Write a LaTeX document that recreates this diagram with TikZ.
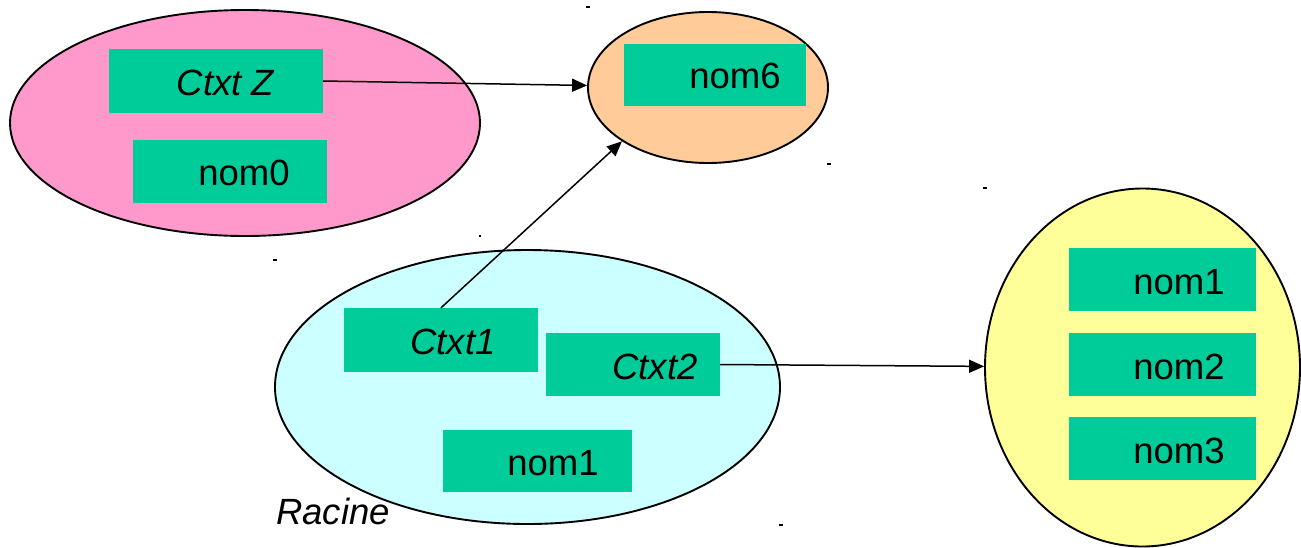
\documentclass[tikz,border=0pt]{standalone}
\usepackage{fontspec}
\setmainfont{Liberation Sans}
\usetikzlibrary{shapes.geometric,arrows.meta}
\definecolor{pinkfill}{HTML}{FF99CC}
\definecolor{orangefill}{HTML}{FFCC99}
\definecolor{cyanfill}{HTML}{CCFFFF}
\definecolor{yellowfill}{HTML}{FFFF99}
\definecolor{boxgreen}{HTML}{00CC99}
\begin{document}
\begin{tikzpicture}[x=1pt,y=-1pt,
  oval/.style={ellipse, draw=black, line width=1.9pt, inner sep=0pt},
  box/.style={rectangle, fill=boxgreen, draw=none, inner sep=0pt},
  lbl/.style={font=\fontsize{36.5}{44}\selectfont, inner sep=0pt},
  ilbl/.style={font=\fontsize{36.5}{44}\selectfont\itshape, inner sep=0pt},
  arr/.style={-{Triangle[length=15pt,width=13pt]}, line width=1.5pt},
  dotmark/.style={fill=black}]
\useasboundingbox (0,0) rectangle (1301,547);
% ellipses
\node[oval, fill=pinkfill, minimum width=470pt, minimum height=226pt] (pink) at (245,123) {};
\node[oval, fill=orangefill, minimum width=240pt, minimum height=151pt] (orange) at (708,87.5) {};
\node[oval, fill=cyanfill, minimum width=505pt, minimum height=274pt] (cyan) at (527.5,387) {};
\node[oval, fill=yellowfill, minimum width=315pt, minimum height=358pt] (yel) at (1142.5,367.5) {};
% boxes
\node[box, minimum width=214pt, minimum height=64pt] (ctz) at (216,81) {};
\node[box, minimum width=194pt, minimum height=63pt] (nomz) at (230,171.5) {};
\node[box, minimum width=182pt, minimum height=62pt] (nomsix) at (715,75) {};
\node[box, minimum width=194pt, minimum height=64pt] (ctxa) at (441,340) {};
\node[box, minimum width=174pt, minimum height=63pt] (ctxb) at (633,364.5) {};
\node[box, minimum width=189pt, minimum height=62pt] (nomc) at (537.5,461) {};
\node[box, minimum width=187pt, minimum height=63pt] (ra) at (1162.5,279.5) {};
\node[box, minimum width=187pt, minimum height=63pt] (rb) at (1162.5,364.5) {};
\node[box, minimum width=187pt, minimum height=63pt] (rc) at (1162.5,448.5) {};
% labels
\node[ilbl] (tctz) at (225.5,83) {Ctxt Z};
\node[lbl] (tnomz) at (244,173) {nom0};
\node[lbl] (tnomsix) at (735,76) {nom6};
\node[ilbl] (tctxa) at (453,342) {Ctxt1};
\node[ilbl] (tctxb) at (655,367) {Ctxt2};
\node[lbl] (tnomc) at (553,463) {nom1};
\node[lbl] (tra) at (1179,282) {nom1};
\node[lbl] (trb) at (1179,367) {nom2};
\node[lbl] (trc) at (1179,451) {nom3};
\node[ilbl] (racine) at (333,511) {Racine};
% arrows
\draw[arr] (ctz.east) -- (orange);
\draw[arr] (ctxa.north) -- (orange.212);
\draw[arr] (ctxb.east) -- (yel);
% small marks
\fill[dotmark] (586,6) rectangle (590,8);
\fill[dotmark] (827,163) rectangle (831,165);
\fill[dotmark] (983,187) rectangle (987,189);
\fill[dotmark] (479,235) rectangle (481,237);
\fill[dotmark] (273,259) rectangle (277,261);
\fill[dotmark] (779,524) rectangle (783,526);
\end{tikzpicture}
\end{document}
